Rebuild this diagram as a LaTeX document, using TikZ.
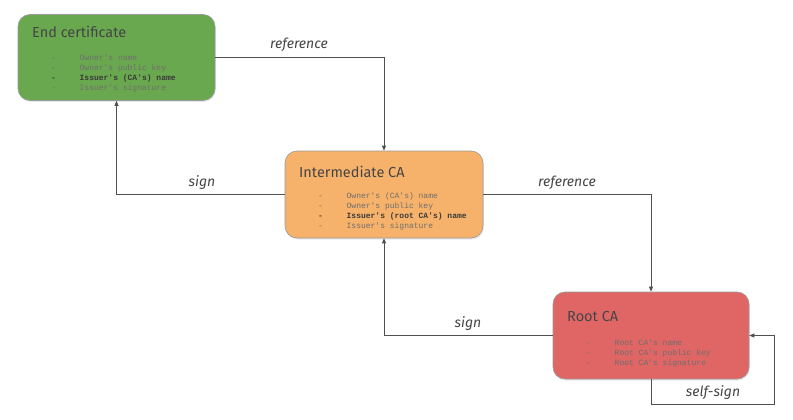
\documentclass[tikz,border=0pt]{standalone}
\usepackage{fontspec}
\setmainfont{Fira Sans}
\newfontfamily\monof{Liberation Mono}
\usetikzlibrary{arrows.meta,shadows}
\definecolor{cgreen}{HTML}{6AA84F}
\definecolor{corange}{HTML}{F6B26B}
\definecolor{cred}{HTML}{E06666}
\definecolor{cborder}{HTML}{9A9A9A}
\definecolor{ctitle}{HTML}{454545}
\definecolor{citem}{HTML}{6E6E6E}
\definecolor{cbold}{HTML}{3A3A3A}
\definecolor{cline}{HTML}{505050}
\tikzset{
  cert/.style={draw=cborder, line width=0.6pt, rounded corners=12pt, inner sep=0pt,
    drop shadow={shadow xshift=0.8pt, shadow yshift=-1.5pt, opacity=0.18}},
  certtitle/.style={anchor=base west, inner sep=0pt, font=\fontsize{14.5}{16}\selectfont, text=ctitle},
  item/.style={anchor=base west, inner sep=0pt, font=\monof\fontsize{8}{9}\selectfont, text=citem},
  bitem/.style={item, text=cbold, font=\monof\bfseries\fontsize{8}{9}\selectfont},
  conn/.style={draw=cline, line width=0.8pt, -{Triangle[length=5pt,width=4pt]}},
  lab/.style={inner sep=0pt, font=\itshape\fontsize{14}{16}\selectfont, text=ctitle}
}
\newcommand{\itm}[1]{\makebox[28.5pt][l]{-}#1}
\begin{document}
\begin{tikzpicture}[x=1pt,y=-1pt]
\useasboundingbox (0,0) rectangle (793,420);
% boxes
\node[cert, fill=cgreen, minimum width=197pt, minimum height=86pt] (end) at (116.5,57.5) {};
\node[cert, fill=corange, minimum width=198pt, minimum height=87pt] (inter) at (384,194.5) {};
\node[cert, fill=cred, minimum width=196pt, minimum height=87pt] (root) at (651,335.5) {};
% end certificate text
\node[certtitle] (endt) at (32,38) {End certificate};
\node[item] (e1) at (51,60.5) {\itm{Owner's name}};
\node[item] (e2) at (51,70.5) {\itm{Owner's public key}};
\node[bitem] (e3) at (51,80.5) {\itm{Issuer's (CA's) name}};
\node[item] (e4) at (51,90.5) {\itm{Issuer's signature}};
% intermediate text
\node[certtitle] (intert) at (299,177) {Intermediate CA};
\node[item] (i1) at (318,198.5) {\itm{Owner's (CA's) name}};
\node[item] (i2) at (318,208.5) {\itm{Owner's public key}};
\node[bitem] (i3) at (318,218.5) {\itm{Issuer's (root CA's) name}};
\node[item] (i4) at (318,228.5) {\itm{Issuer's signature}};
% root text
\node[certtitle] (roott) at (567,321) {Root CA};
\node[item] (r1) at (586,345.5) {\itm{Root CA's name}};
\node[item] (r2) at (586,355.5) {\itm{Root CA's public key}};
\node[item] (r3) at (586,365.5) {\itm{Root CA's signature}};
% connectors
\draw[conn] (end.east) -| (inter.north);
\draw[conn] (inter.west) -| (end.south);
\draw[conn] (inter.east) -| (root.north);
\draw[conn] (root.west) -| (inter.south);
\coordinate (s1) at (651,404);
\coordinate (s2) at (774,404);
\coordinate (s3) at (774,335.5);
\draw[conn] (root.south) -- (s1) -- (s2) -- (s3) -- (root.east);
% labels
\node[lab] (l1) at (299,45) {reference};
\node[lab] (l2) at (202,183) {sign};
\node[lab] (l3) at (567,183) {reference};
\node[lab] (l4) at (468,324) {sign};
\node[lab] (l5) at (713,393) {self-sign};
\end{tikzpicture}
\end{document}
